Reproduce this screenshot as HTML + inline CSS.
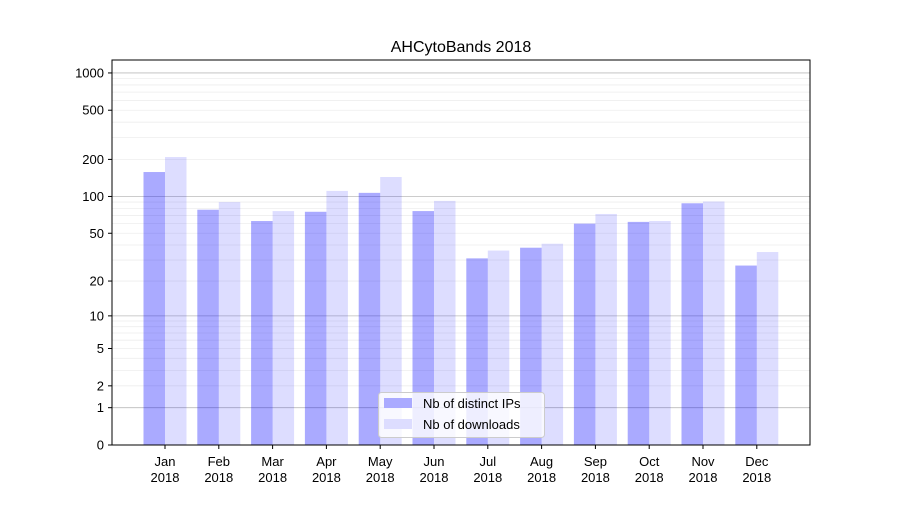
<!DOCTYPE html>
<html><head><meta charset="utf-8"><style>body{margin:0;background:#fff}svg{font-family:"Liberation Sans","DejaVu Sans",sans-serif}</style></head>
<body>
<svg id="chart" width="900" height="500">
<rect width="900" height="500" fill="#fff"/>
<text x="461" y="52" font-size="16" text-anchor="middle">AHCytoBands 2018</text>
<g id="grid"></g><g id="bars"></g><g id="axes"></g>
<rect x="112" y="60" width="698" height="385" fill="none" stroke="#000" stroke-width="1"/>
<g>
<rect x="378.5" y="392.5" width="166" height="45" fill="#fff" fill-opacity="0.8" stroke="#ccc" rx="3"/>
<rect x="384" y="398" width="28" height="10" fill="#aaaaff"/>
<text x="423" y="408" font-size="13">Nb of distinct IPs</text>
<rect x="384" y="419" width="28" height="10" fill="#ddddff"/>
<text x="423" y="429" font-size="13">Nb of downloads</text>
</g>
</svg>
<script>
const categories=["Jan","Feb","Mar","Apr","May","Jun","Jul","Aug","Sep","Oct","Nov","Dec"];
const ips=[158,78,63,75,107,76,31,38,60,62,88,27];
const downloads=[209,90,76,111,144,92,36,41,72,63,91,35];
const yTicks=[0,1,2,5,10,20,50,100,200,500,1000];
const NS="http://www.w3.org/2000/svg";
const y0=445,pxDec=124,x0=165,step=53.8,bw=21.5;
function yS(v){return y0-Math.log10(1+v)*pxDec;}
function xS(i){return x0+i*step;}
function mk(t,a,p){const e=document.createElementNS(NS,t);for(const k in a)e.setAttribute(k,a[k]);p.appendChild(e);return e;}
const grid=document.getElementById('grid'),bars=document.getElementById('bars'),axes=document.getElementById('axes');
for(let d=0;d<=3;d++){for(let m=1;m<10;m++){const v=m*Math.pow(10,d);if(v>1273)break;const y=yS(v);
const l=mk('line',{x1:112,x2:810,y1:y,y2:y,stroke:m===1?'#bbb':'#eee','stroke-width':0.8},grid);

}}
yTicks.forEach(v=>{const y=yS(v);
const t=mk('line',{x1:108,x2:112,y1:y,y2:y,stroke:'#000'},axes);


const tx=mk('text',{x:104,y:y+4.5,'font-size':13,'text-anchor':'end'},axes);tx.textContent=v;

});
categories.forEach((c,i)=>{const x=xS(i);
const b1=mk('rect',{x:x-bw,y:yS(ips[i]),width:bw,height:y0-yS(ips[i]),fill:'#0000ff','fill-opacity':0.333},bars);


const b2=mk('rect',{x:x,y:yS(downloads[i]),width:bw,height:y0-yS(downloads[i]),fill:'#0000ff','fill-opacity':0.133},bars);


const t=mk('line',{x1:x,x2:x,y1:445,y2:449,stroke:'#000'},axes);


const tx=mk('text',{x:x,y:466,'font-size':13,'text-anchor':'middle'},axes);tx.textContent=c;


const ty=mk('text',{x:x,y:482,'font-size':13,'text-anchor':'middle'},axes);ty.textContent='2018';

});
</script>
</body></html>
